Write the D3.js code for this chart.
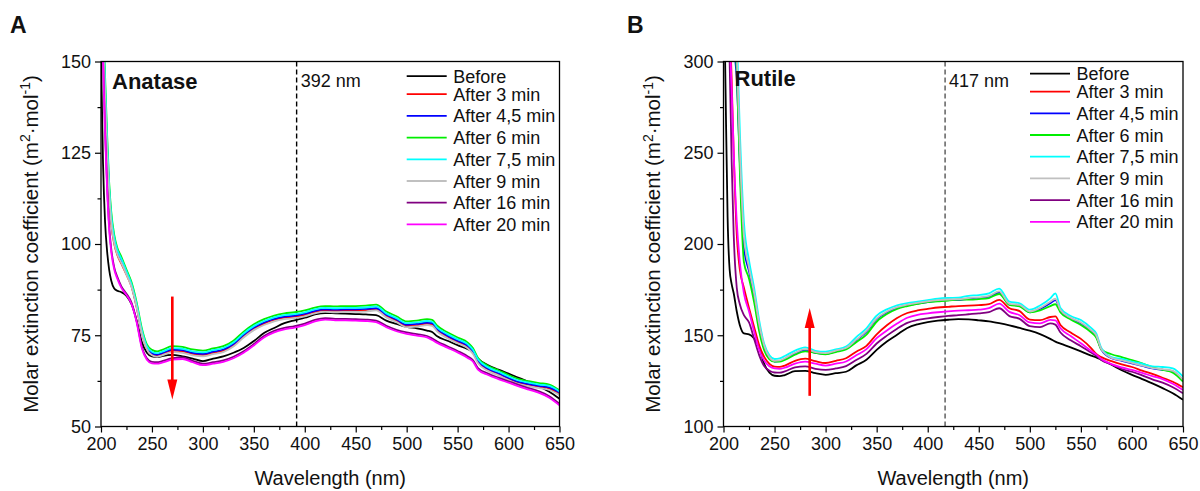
<!DOCTYPE html>
<html>
<head>
<meta charset="utf-8">
<script src="https://cdn.jsdelivr.net/npm/d3@7"></script>
<style>
  body { margin: 0; background: #fff; }
  svg text { font-family: "Liberation Sans", Arial, sans-serif; fill: #111; }
</style>
</head>
<body>
<svg id="chart" width="1200" height="491"></svg>
<script>
// wavelength grid (nm) shared by both spectra
var wavelengths = [200, 202, 204, 206, 208, 210, 213, 216, 220, 225, 230, 235, 240, 245, 250, 255, 260,
  270, 280, 290, 300, 310, 320, 330, 340, 350, 360, 370, 380, 390, 400, 410, 420, 430, 440, 450, 460,
  470, 480, 490, 500, 510, 520, 525, 530, 540, 550, 560, 565, 570, 580, 590, 600, 610, 620, 630, 640, 650];

var seriesLabels = ["Before", "After 3 min", "After 4,5 min", "After 6 min", "After 7,5 min", "After 9 min", "After 16 min", "After 20 min"];
var seriesColors = ["#000000", "#ff0000", "#0000ff", "#00ee00", "#00ffff", "#c0c0c0", "#800080", "#ff00ff"];

// Anatase (panel A)
var anataseBefore = [152, 122, 106, 98, 93, 90, 87.8, 87.2, 86.8, 85.8, 83.5, 79, 73.2, 70.2, 69.2, 69, 69.3,
  69.6, 69.2, 68.6, 67.9, 68.6, 69.2, 70.2, 71.5, 73.4, 75.6, 77, 78.3, 79.1, 79.8, 80.7, 81.1, 81, 80.9, 80.8, 80.7,
  80.5, 79, 78.1, 77.3, 76.9, 76.3, 75.9, 74.7, 73.5, 72.3, 71.2, 70.4, 68.6, 66.8, 65.6, 64.5, 63.3, 62.2, 61, 59.5, 57.6];
var anatase3 = [175, 156, 140, 124, 113, 105.5, 100, 97, 94.6, 91.6, 88.3, 82.6, 75.8, 71.4, 69.9, 69.5, 69.9,
  70.8, 70.6, 69.9, 69.6, 70.2, 70.8, 72.3, 74.8, 76.8, 78.2, 79.2, 79.8, 80.1, 80.6, 81.4, 81.8, 81.7, 81.8, 81.8, 81.9,
  82.1, 80.3, 79, 77.6, 77.8, 78.2, 78, 76.4, 74.6, 73.2, 71.8, 70.3, 67.7, 65.6, 64.4, 63.1, 62, 61.4, 60.9, 60.4, 58.9];
var anatase45 = [178, 158, 142, 126, 115, 107, 101, 97.8, 95.4, 92.2, 88.7, 83, 76.1, 71.7, 70.1, 69.7, 70.1,
  71.1, 70.9, 70.2, 69.9, 70.5, 71.1, 72.6, 75.1, 77.1, 78.5, 79.5, 80.1, 80.4, 80.9, 81.7, 82.1, 82, 82.1, 82.1, 82.2,
  82.4, 80.6, 79.3, 77.9, 78.1, 78.5, 78.3, 76.7, 74.9, 73.5, 72.1, 70.6, 68, 65.8, 64.6, 63.3, 62.2, 61.6, 61.1, 60.7, 59.3];
var anatase6 = [185, 165, 146, 130, 117, 109, 102.5, 99, 96.5, 93, 89.5, 84, 77, 72.5, 71, 70.6, 71,
  72, 71.8, 71.1, 70.8, 71.4, 72, 73.5, 76, 78, 79.4, 80.4, 81, 81.3, 81.8, 82.6, 83, 82.9, 83, 83, 83.1,
  83.4, 81.5, 80.2, 78.8, 79, 79.4, 79.2, 77.6, 75.8, 74.4, 73, 71.5, 68.8, 66.6, 65.4, 64.1, 63, 62.4, 61.9, 61.5, 59.9];
var anatase75 = [182, 162, 144, 128, 116, 108, 101.8, 98.4, 95.9, 92.5, 89, 83.5, 76.5, 72, 70.5, 70.1, 70.5,
  71.5, 71.3, 70.6, 70.3, 70.9, 71.5, 73, 75.5, 77.5, 78.9, 79.9, 80.5, 80.8, 81.3, 82.1, 82.5, 82.4, 82.5, 82.5, 82.6,
  82.9, 81, 79.7, 78.3, 78.5, 78.9, 78.7, 77.1, 75.3, 73.9, 72.5, 71, 68.4, 66.2, 65, 63.7, 62.6, 62, 61.5, 61.1, 59.6];
var anatase9 = [176, 157, 141, 125, 114, 106, 100.2, 97.2, 94.8, 91.6, 88.2, 82.6, 75.6, 71.2, 69.5, 69.1, 69.5,
  70.4, 70.2, 69.5, 69.2, 69.8, 70.4, 71.9, 74.4, 76.4, 77.8, 78.8, 79.4, 79.7, 80.2, 81, 81.4, 81.3, 81.4, 81.4, 81.5,
  81.8, 79.9, 78.6, 77.2, 77.4, 77.8, 77.6, 76, 74.2, 72.8, 71.4, 69.9, 67.3, 65.2, 64, 62.7, 61.6, 61, 60.5, 60, 58.6];
var anatase16 = [172, 151, 131, 116, 105, 98.8, 93.6, 91, 88.4, 86.4, 83.9, 78.9, 72, 68.7, 67.7, 67.6, 67.9,
  68.7, 68.9, 68, 67.2, 67.6, 68.1, 69.1, 70.6, 72.6, 74.8, 76.2, 77, 77.5, 78.2, 79.2, 79.7, 79.5, 79.5, 79.4, 79.3,
  79, 77.6, 76.5, 75.8, 75.3, 74.8, 74.1, 73.3, 72, 70.7, 69.2, 68.2, 66, 64.5, 63.4, 62.4, 61.4, 60.5, 59.6, 58.3, 56.2];
var anatase20 = [175, 150, 130, 115, 104, 98, 93, 90.5, 88, 86, 83.5, 78.5, 71.5, 68.3, 67.3, 67.2, 67.5,
  68.3, 68.5, 67.6, 66.8, 67.2, 67.7, 68.7, 70.2, 72.2, 74.4, 75.8, 76.6, 77.1, 77.8, 78.8, 79.3, 79.1, 79.1, 79, 78.9,
  78.6, 77.2, 76.1, 75.4, 74.9, 74.4, 73.7, 72.9, 71.6, 70.3, 68.8, 67.8, 65.6, 64.1, 63, 62, 61, 60.1, 59.2, 57.9, 55.8];

// Rutile (panel B)
var rutileBefore = [360, 285, 215, 186, 178, 173, 163, 155.5, 151, 150.5, 148.2, 143.5, 134, 129.5, 127.8, 127.6, 128.2,
  130.3, 130.5, 129.2, 128.3, 129.2, 130, 133.5, 136.6, 142, 146.6, 150.3, 154, 156, 157.2, 158, 158.5, 158.8, 158.7, 158.2, 157.6,
  156.6, 155.4, 154, 152.5, 150.6, 148, 146.5, 145.4, 143.4, 141.2, 138.8, 137.9, 136.6, 133.8, 130.8, 128.3, 126, 123.6, 121, 118.2, 114.6];
var rutile3 = [440, 400, 360, 325, 290, 250, 205, 186, 176, 165, 154.5, 144.5, 138, 134.3, 132.8, 132.7, 133.4,
  136, 137.2, 135.8, 134.8, 136, 137.4, 141, 144.2, 150.5, 155.5, 159.5, 162.2, 163.6, 164.4, 165.2, 165.6, 166, 166.2, 166.5, 167,
  169.4, 164.8, 163.2, 158.6, 158.3, 160, 160.3, 155.6, 151.5, 148, 143, 139.8, 138, 135.8, 134, 132.6, 130.6, 128.8, 126.7, 124.5, 121.5];
var rutile45 = [475, 440, 405, 370, 340, 312, 290, 245, 198, 185, 171, 154.5, 143, 137.4, 135.6, 135.8, 137,
  140, 142, 140.4, 139.8, 141.2, 142.6, 147.2, 152, 158.8, 162.6, 165, 166.4, 167.4, 168.2, 168.8, 169.2, 169.4, 170, 170.4, 171.2,
  173.4, 166.8, 166.2, 162.6, 164.4, 167.6, 169.2, 163.4, 159.2, 156.6, 152.4, 149.6, 142.2, 137.4, 136, 134.6, 133.2, 131.8, 131.1, 130.2, 125.2];
var rutile6 = [500, 460, 420, 380, 345, 318, 295, 240, 190, 181, 168, 152, 141.5, 136.8, 135.5, 135.6, 136.5,
  139.3, 141.2, 140.3, 139.6, 140.8, 142.2, 146.2, 150.4, 157.4, 161.6, 164.4, 166, 167.2, 168.2, 168.6, 169, 169.6, 169.5, 169.8, 170.4,
  172.6, 166.6, 165.8, 162.5, 163.6, 166, 167, 162.5, 158.6, 155.6, 151.6, 148.8, 142.2, 139.6, 138, 136.4, 134.6, 132.6, 131, 129.5, 124.6];
var rutile75 = [520, 485, 450, 410, 375, 345, 315, 262, 212, 191, 176, 158, 145, 139, 137, 137.3, 138.6,
  141.6, 143.4, 141.5, 141, 142.2, 143.8, 149, 153.8, 160.8, 164.2, 166.4, 167.6, 168.4, 169.2, 170, 170.4, 170.6, 171.6, 172, 173,
  175.6, 168.4, 167.5, 164, 166.3, 170.2, 173, 165, 160.5, 158.4, 154, 151, 143, 138, 137, 135.6, 134.4, 133, 132.6, 131.8, 127.3];
var rutile9 = [480, 450, 420, 385, 355, 330, 305, 252, 204, 187, 173, 156, 144, 138, 136, 136.2, 137.4,
  140.4, 142.4, 140.8, 140.2, 141.6, 143, 147.6, 152.4, 159.2, 163, 165.4, 166.8, 167.8, 168.6, 169.2, 169.6, 169.8, 170.4, 170.8, 171.6,
  174, 167.2, 166.6, 163, 165, 168.4, 170, 163.8, 159.6, 157, 152.8, 150, 142.4, 137.6, 136.2, 134.8, 133.4, 132, 131.4, 130.5, 125.6];
var rutile16 = [420, 380, 340, 300, 245, 205, 176, 167, 161, 157, 148, 139, 133, 130.6, 129.6, 129.5, 130.2,
  132.4, 133, 131.6, 131, 131.8, 133.1, 136.4, 139.8, 145.5, 149.8, 153.6, 156.8, 158.4, 159.3, 160, 160.6, 161, 161.5, 162, 162.7,
  164.8, 160.5, 159, 155, 154.5, 156.5, 155.8, 151.5, 147.2, 144, 140.5, 138.8, 136.5, 134, 131.5, 130, 128, 125.8, 124, 121.5, 118.2];
var rutile20 = [430, 390, 350, 315, 285, 250, 212, 190, 173, 163, 152, 142, 136, 133, 131.8, 131.6, 132.2,
  134.5, 135.6, 134.4, 133.4, 134.4, 135.6, 139, 142.4, 148.4, 152.6, 156.4, 159.6, 161.2, 162, 162.6, 163.1, 163.5, 163.7, 164, 164.8,
  167.3, 162.8, 161, 157, 156.5, 158.4, 158.2, 153.8, 149.6, 145.6, 141.4, 139.5, 137, 134.2, 132.4, 131, 129.4, 127.6, 126, 123.4, 120];

var anataseSeries = [anataseBefore, anatase3, anatase45, anatase6, anatase75, anatase9, anatase16, anatase20];
var rutileSeries = [rutileBefore, rutile3, rutile45, rutile6, rutile75, rutile9, rutile16, rutile20];

var xTicks = [200, 250, 300, 350, 400, 450, 500, 550, 600, 650];
var xMinor = [225, 275, 325, 375, 425, 475, 525, 575, 625];
var anataseYTicks = [50, 75, 100, 125, 150];
var anataseYMinor = [62.5, 87.5, 112.5, 137.5];
var rutileYTicks = [100, 150, 200, 250, 300];
var rutileYMinor = [125, 175, 225, 275];

var svg = d3.select('#chart');

function drawPanel(p) {
    var x = d3.scaleLinear().domain([200, 650]).range([p.left, p.right]);
    var y = d3.scaleLinear().domain(p.yDomain).range([p.bottom, p.top]);
    var g = svg.append('g');

    g.append('clipPath').attr('id', 'clip' + p.letter)
      .append('rect')
        .attr('x', p.left).attr('y', p.top)
        .attr('width', p.right - p.left).attr('height', p.bottom - p.top);

    // dashed marker line
    g.append('line')
        .attr('x1', x(p.marker)).attr('x2', x(p.marker))
        .attr('y1', p.top).attr('y2', p.bottom)
        .attr('stroke', p.markerColor)
        .attr('stroke-width', 1.4)
        .attr('stroke-dasharray', '5,3');

    var line = d3.line()
        .curve(d3.curveMonotoneX)
        .x(function(d, i) { return x(wavelengths[i]); })
        .y(function(d) { return y(d); });

    var plot = g.append('g').attr('clip-path', 'url(#clip' + p.letter + ')');
    for (var n = 0; n < p.series.length; n++) {
        plot.append('path')
            .datum(p.series[n])
            .attr('fill', 'none')
            .attr('stroke', seriesColors[n])
            .attr('stroke-width', 1.8)
            .attr('d', line);
    }

    // red arrow
    var ax = x(p.arrow[0]), ay1 = y(p.arrow[1]), ay2 = y(p.arrow[2]);
    var dir = ay2 > ay1 ? 1 : -1;
    g.append('line')
        .attr('x1', ax).attr('x2', ax)
        .attr('y1', ay1).attr('y2', ay2 - dir * 16)
        .attr('stroke', '#ff0000').attr('stroke-width', 2.6);
    g.append('path')
        .attr('d', 'M' + (ax - 5) + ',' + (ay2 - dir * 20) + 'L' + (ax + 5) + ',' + (ay2 - dir * 20) + 'L' + ax + ',' + ay2 + 'Z')
        .attr('fill', '#ff0000');

    // frame
    g.append('rect')
        .attr('x', p.left).attr('y', p.top)
        .attr('width', p.right - p.left).attr('height', p.bottom - p.top)
        .attr('fill', 'none').attr('stroke', '#000').attr('stroke-width', 1.3);

    // axes
    g.append('g').attr('transform', 'translate(' + p.left + ',0)')
        .call(d3.axisLeft(y).tickValues(p.yTicks).tickSize(6).tickSizeOuter(0).tickPadding(4));
    g.append('g').attr('transform', 'translate(' + p.left + ',0)')
        .call(d3.axisLeft(y).tickValues(p.yMinor).tickSize(3.5).tickSizeOuter(0).tickFormat(''));
    g.append('g').attr('transform', 'translate(0,' + p.bottom + ')')
        .call(d3.axisBottom(x).tickValues(xTicks).tickSize(6).tickSizeOuter(0).tickPadding(5));
    g.append('g').attr('transform', 'translate(0,' + p.bottom + ')')
        .call(d3.axisBottom(x).tickValues(xMinor).tickSize(3.5).tickSizeOuter(0).tickFormat(''));
    g.selectAll('.domain').remove();
    g.selectAll('.tick line').attr('stroke', '#000').attr('stroke-width', 1.2);
    g.selectAll('.tick text').style('font-size', '18px').style('font-family', '"Liberation Sans", Arial, sans-serif').attr('fill', '#111');

    // axis titles
    g.append('text')
        .attr('x', (p.left + p.right) / 2).attr('y', 485)
        .attr('text-anchor', 'middle')
        .style('font-size', '20px')
        .text('Wavelength (nm)');
    var yt = g.append('text')
        .attr('transform', 'translate(' + p.yTitleX + ',' + ((p.top + p.bottom) / 2) + ') rotate(-90)')
        .attr('text-anchor', 'middle')
        .style('font-size', '20.5px');
    yt.append('tspan').text('Molar extinction coefficient (m');
    yt.append('tspan').attr('dy', -7.5).style('font-size', '14px').text('2');
    yt.append('tspan').attr('dy', 7.5).text('\u00b7mol');
    yt.append('tspan').attr('dy', -7.5).style('font-size', '14px').text('-1');
    yt.append('tspan').attr('dy', 7.5).text(')');

    // panel letter and sample name
    g.append('text').attr('x', p.letterX).attr('y', 33)
        .style('font-size', '23px').style('font-weight', 'bold').text(p.letter);
    g.append('text').attr('x', p.left + 11).attr('y', p.nameY)
        .style('font-size', '22px').style('font-weight', 'bold').text(p.name);
    g.append('text').attr('x', x(p.marker) + 4).attr('y', 86.5)
        .style('font-size', '18px').text(p.marker + ' nm');

    // legend
    var lg = g.append('g');
    for (var i = 0; i < seriesLabels.length; i++) {
        var ly = i == 0 ? p.legendY : p.legendY + 18 + (i - 1) * 21.7;
        lg.append('line')
            .attr('x1', p.legendX).attr('x2', p.legendX + 40)
            .attr('y1', ly).attr('y2', ly)
            .attr('stroke', seriesColors[i]).attr('stroke-width', 1.8);
        lg.append('text')
            .attr('x', p.legendX + 46.5).attr('y', ly + 6.5)
            .style('font-size', '18px')
            .text(seriesLabels[i]);
    }
}

drawPanel({
    letter: 'A', letterX: 10, name: 'Anatase', nameY: 89,
    left: 101, right: 559.5, top: 61.5, bottom: 426.5,
    yDomain: [50, 150], yTicks: anataseYTicks, yMinor: anataseYMinor,
    series: anataseSeries,
    marker: 392, markerColor: '#000',
    arrow: [270, 85.6, 57.4],
    legendX: 406.7, legendY: 76.2,
    yTitleX: 37.5
});

drawPanel({
    letter: 'B', letterX: 627, name: 'Rutile', nameY: 86,
    left: 723.5, right: 1183, top: 61.5, bottom: 426.5,
    yDomain: [100, 300], yTicks: rutileYTicks, yMinor: rutileYMinor,
    series: rutileSeries,
    marker: 417, markerColor: '#555',
    arrow: [284.4, 116.8, 165],
    legendX: 1030, legendY: 73.6,
    yTitleX: 660
});
</script>
</body>
</html>
